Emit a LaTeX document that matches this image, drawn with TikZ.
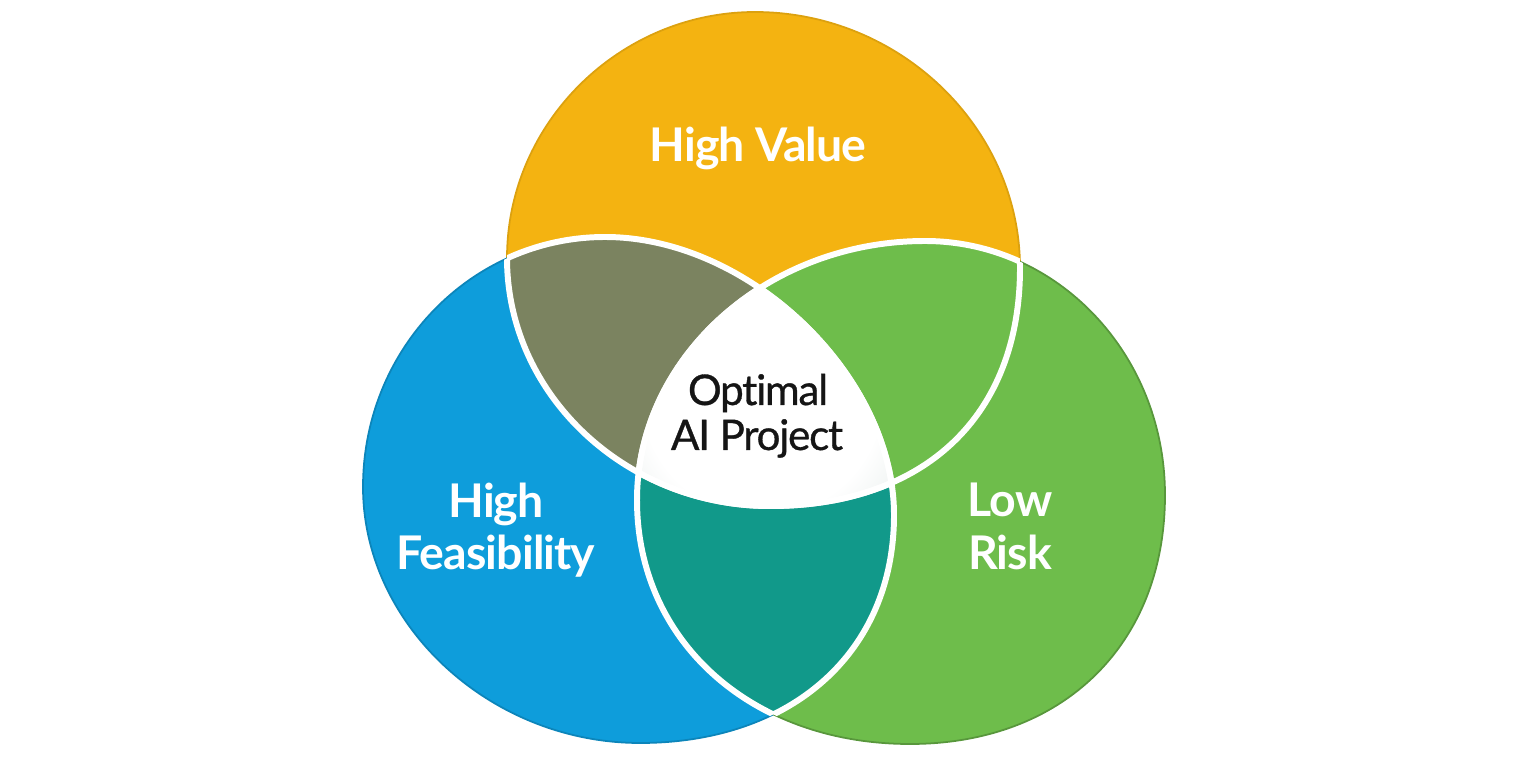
\documentclass[tikz,border=0pt]{standalone}
\usepackage{fontspec}
\setmainfont{Lato}[Ligatures=NoCommon]
\newfontfamily\labfont{Lato}[Ligatures=NoCommon,LetterSpace=-2]
\newfontfamily\ctrfont{Lato}[Ligatures=NoCommon,LetterSpace=-3,FakeBold=0.8]
\definecolor{corange}{HTML}{F4B311}
\definecolor{cblue}{HTML}{0E9DDB}
\definecolor{cgreen}{HTML}{6EBD4B}
\definecolor{colive}{HTML}{7B8360}
\definecolor{cteal}{HTML}{11998A}
\definecolor{cedge}{HTML}{BFCFCA}
\definecolor{ctext}{HTML}{151515}
\pgfdeclareradialshading{centerglow}{\pgfpoint{0bp}{0bp}}{color(0bp)=(white); color(10bp)=(white); color(25bp)=(cedge); color(50bp)=(cedge)}
\begin{document}
\begin{tikzpicture}[x=0.01cm,y=-0.01cm,
  lab/.style={text=white,font=\labfont\fontsize{13.2}{14}\selectfont\bfseries,inner sep=0pt,anchor=base},
  clab/.style={text=ctext,font=\ctrfont\fontsize{12.0}{12}\selectfont,inner sep=0pt,anchor=base},
  sep/.style={white,line width=1.7pt}]
\useasboundingbox (0,0) rectangle (1536,764);
\def\pblue{(894,515) .. controls (894,376) and (749.5,237) .. (605,237)
  .. controls (471.3,237) and (363,348.9) .. (363,487)
  .. controls (363,625.2) and (490.4,743) .. (640,743)
  .. controls (792.4,743) and (894,651.8) .. (894,515) -- cycle}
\def\pgreen{(1165,495) .. controls (1165,354.7) and (1057.6,241) .. (925,241)
  .. controls (766.6,241) and (637,357.6) .. (637,500)
  .. controls (637,641.5) and (751.7,744) .. (910,744)
  .. controls (1063,744) and (1165,644.4) .. (1165,495) -- cycle}
\def\porange{(755,12) .. controls (900,12) and (1020,128) .. (1020,268)
  .. controls (1020,415.6) and (925,506) .. (770,506)
  .. controls (625.4,506) and (507,394.4) .. (507,258)
  .. controls (507,122.7) and (620,12) .. (755,12) -- cycle}
% base fills
\fill[corange] \porange;
\fill[cblue] \pblue;
\fill[cgreen] \pgreen;
% pairwise overlaps
\begin{scope}\clip \pblue; \fill[cteal] \pgreen; \end{scope}
\begin{scope}\clip \porange; \fill[colive] \pblue; \end{scope}
\begin{scope}\clip \porange; \clip \pgreen; \fill[cgreen] \pgreen; \end{scope}
% centre
\begin{scope}\clip \porange; \clip \pblue; \clip \pgreen;
  \shade[shading=centerglow] (762,395) circle (300);
\end{scope}
% thin outer edges
\draw[corange!90!black,line width=0.5pt] \porange;
\draw[cblue!85!black,line width=0.5pt] \pblue;
\draw[cgreen!80!black,line width=0.5pt] \pgreen;
% white separators inside the other shapes
\begin{scope}\clip \pblue; \draw[sep] \porange; \draw[sep] \pgreen; \end{scope}
\begin{scope}\clip \pgreen; \draw[sep] \porange; \draw[sep] \pblue; \end{scope}
\begin{scope}\clip \porange; \draw[sep] \pblue; \draw[sep] \pgreen; \end{scope}
% labels
\node[lab] (hv) at (758,162) {High Value};
\node[lab] (hf1) at (496,518) {High};
\node[lab] (hf2) at (496,570) {Feasibility};
\node[lab] (lr1) at (1010,517) {Low};
\node[lab] (lr2) at (1010,570) {Risk};
\node[clab] (op1) at (758,405) {Optimal};
\node[clab] (op2) at (757,450) {AI Project};
\end{tikzpicture}
\end{document}
